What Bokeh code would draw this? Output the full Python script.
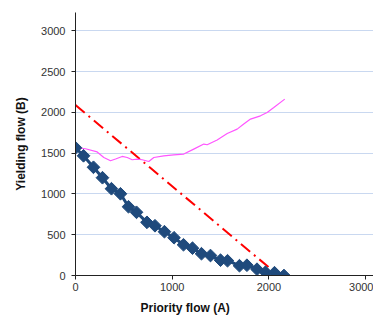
import math
from bokeh.plotting import figure
from bokeh.models import Range1d, FixedTicker, Title
from bokeh.embed import file_html
from bokeh.resources import INLINE

# Capacity points (diamonds)
cap_x = [0, 83, 186, 279, 372, 465, 548, 631, 739, 822, 920, 1019, 1117, 1210,
         1303, 1396, 1500, 1572, 1696, 1773, 1877, 1965, 2058, 2156]
cap_y = [1566, 1468, 1327, 1199, 1064, 1002, 843, 775, 652, 610, 537, 463, 377, 335,
         267, 245, 188, 181, 120, 126, 77, 40, 34, 0]

# Straight reference line (red dash-dot)
ref_x = [0, 2100]
ref_y = [2090, 0]

# Magenta line
mag_x = [0, 103, 224, 293, 362, 414, 483, 535, 586, 638, 690, 758, 810, 913, 1016,
         1120, 1223, 1327, 1362, 1465, 1569, 1672, 1740, 1810, 1913, 1982, 2051, 2164]
mag_y = [1566, 1554, 1515, 1447, 1407, 1428, 1460, 1447, 1419, 1428, 1419, 1398, 1447,
         1468, 1480, 1489, 1550, 1612, 1603, 1661, 1741, 1795, 1857, 1918, 1958, 1999,
         2060, 2163]

x_ticks = [0, 1000, 2000, 3000]
y_ticks = [0, 500, 1000, 1500, 2000, 2500, 3000]

p = figure(width=373, height=320, output_backend="svg", toolbar_location=None,
           x_range=Range1d(0, 3082), y_range=Range1d(0, 3225),
           min_border_left=75, min_border_right=0, min_border_top=12, min_border_bottom=45)
p.outline_line_color = None
p.background_fill_color = "white"

p.xgrid.grid_line_color = None
p.ygrid.grid_line_color = "#C9D8F0"
p.ygrid.grid_line_width = 1

for ax in (p.xaxis, p.yaxis):
    ax.axis_line_color = "#222222"
    ax.axis_line_width = 1
    ax.major_tick_line_color = "#222222"
    ax.major_tick_out = 4
    ax.major_tick_in = 0
    ax.minor_tick_line_color = None
    ax.major_label_text_font = "Liberation Sans"
    ax.major_label_text_font_size = "11px"
    ax.major_label_text_color = "#333333"

p.xaxis.ticker = FixedTicker(ticks=x_ticks)
p.yaxis.ticker = FixedTicker(ticks=y_ticks)
p.xaxis.major_label_standoff = 3
p.yaxis.major_label_standoff = 6

p.yaxis.axis_label = "Yielding flow (B)"
p.yaxis.axis_label_text_font = "Liberation Sans"
p.yaxis.axis_label_text_font_style = "bold"
p.yaxis.axis_label_text_font_size = "12px"
p.yaxis.axis_label_text_color = "#111111"
p.yaxis.axis_label_standoff = 10

p.line(ref_x, ref_y, line_color="#FF0000", line_width=2, line_dash="12 5 2 5")
p.line(mag_x, mag_y, line_color="#FF55FF", line_width=1.2)
p.line(cap_x, cap_y, line_color="#1F4A7C", line_width=3)
p.scatter(cap_x, cap_y, marker="square", size=9, angle=math.pi / 4,
          fill_color="#1F4A7C", line_color="#1F4A7C")

xt = Title(text="Priority flow (A)", align="left", offset=65, text_font="Liberation Sans",
           text_font_style="bold", text_font_size="12px", text_color="#111111",
           standoff=11)
p.add_layout(xt, "below")

open("out.html", "w").write(file_html(p, INLINE))
